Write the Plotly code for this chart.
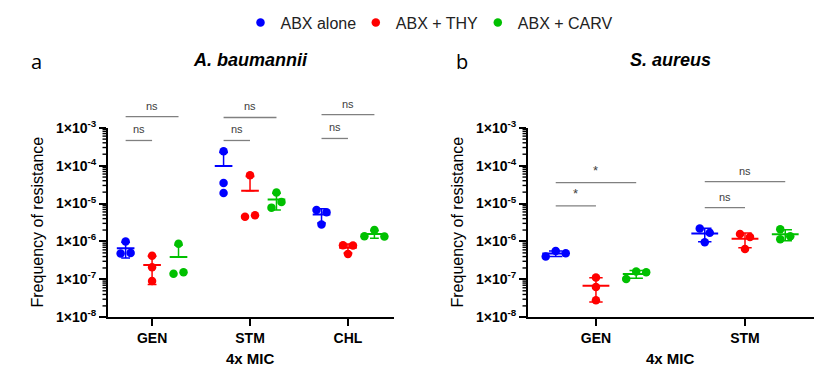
import numpy as np
import plotly.graph_objects as go

# ---------------- data ----------------
groups = ["ABX alone", "ABX + THY", "ABX + CARV"]
colors = ["#0000ff", "#ff0000", "#00c000"]

cats_a = ["GEN", "STM", "CHL"]
abx_alone_a = [[1.0e-6, 4.8e-7, 5.0e-7], [2.4e-4, 3.5e-5, 1.9e-5], [6.8e-6, 5.9e-6, 2.8e-6]]
abx_thy_a = [[4.2e-7, 2.1e-7, 9.1e-8], [5.6e-5, 4.5e-6, 4.9e-6], [7.9e-7, 7.8e-7, 4.7e-7]]
abx_carv_a = [[8.7e-7, 1.4e-7, 1.55e-7], [1.95e-5, 7.8e-6, 1.1e-5], [2.0e-6, 1.35e-6, 1.38e-6]]

cats_b = ["GEN", "STM"]
abx_alone_b = [[5.6e-7, 4.9e-7, 4.0e-7], [2.2e-6, 1.7e-6, 9.5e-7]]
abx_thy_b = [[1.12e-7, 6.3e-8, 2.8e-8], [1.58e-6, 1.32e-6, 6.3e-7]]
abx_carv_b = [[1.62e-7, 1.55e-7, 1.02e-7], [2.1e-6, 1.38e-6, 1.15e-6]]

ytick_vals = [1e-8, 1e-7, 1e-6, 1e-5, 1e-4, 1e-3]
ytick_text = ["1×10<sup>-8</sup>", "1×10<sup>-7</sup>", "1×10<sup>-6</sup>",
              "1×10<sup>-5</sup>", "1×10<sup>-4</sup>", "1×10<sup>-3</sup>"]
minor_vals = [k * d for d in ytick_vals[:-1] for k in range(2, 10)]

# significance brackets: (category index, from group, to group, level, label)
sig_a = [(0, 0, 2, 1.95e-3, "ns"), (0, 0, 1, 4.6e-4, "ns"),
         (1, 0, 2, 1.86e-3, "ns"), (1, 0, 1, 4.6e-4, "ns"),
         (2, 0, 2, 2.2e-3, "ns"), (2, 0, 1, 5.2e-4, "ns")]
sig_b = [(0, 0, 2, 3.55e-5, "*"), (0, 0, 1, 8.7e-6, "*"),
         (1, 0, 2, 3.8e-5, "ns"), (1, 0, 1, 7.8e-6, "ns")]

# ---------------- layout constants ----------------
W, H = 823, 368
FONT = "Arial, Liberation Sans, sans-serif"
dom_a = [108 / W, 394 / W]
dom_b = [528 / W, 814 / W]
dom_y = [1 - 317.3 / H, 1 - 127.7 / H]
rng_a = [-0.45, 2.47]
rng_b = [-0.456, 1.463]
YLOG = [-8, -3]
GROUP_OFF = 0.27
px_per_dec = H * (dom_y[1] - dom_y[0]) / (YLOG[1] - YLOG[0])
legend_dot_x = [260, 375.3, 497.3]


def px_per_cat(dom, rng):
    return W * (dom[1] - dom[0]) / (rng[1] - rng[0])


def place(vals, ppc, step=10.0, diam=8.0):
    """GraphPad-like spreading of overlapping dots (returns category offsets)."""
    ys = np.log10(vals) * px_per_dec
    xs = []
    for i, y in enumerate(ys):
        for c in [0, 1, -1, 2, -2]:
            if all(np.hypot(c * step - xs[j], y - ys[j]) >= diam for j in range(i)):
                xs.append(c * step)
                break
    order = np.argsort(ys)
    clusters = [[order[0]]]
    for a, b in zip(order[:-1], order[1:]):
        if ys[b] - ys[a] < diam:
            clusters[-1].append(b)
        else:
            clusters.append([b])
    for cl in clusters:
        mid = (max(xs[k] for k in cl) + min(xs[k] for k in cl)) / 2
        for k in cl:
            xs[k] -= mid
    return np.array(xs) / ppc


fig = go.Figure()
legend_ids = ["legend", "legend2", "legend3"]


def add_panel(series, xa, ya, dom, rng, showlegend):
    ppc = px_per_cat(dom, rng)
    for g, (name, col, data) in enumerate(zip(groups, colors, series)):
        xs, ys = [], []
        for ci, vals in enumerate(data):
            off = place(vals, ppc)
            xs += list(ci + (g - 1) * GROUP_OFF + off)
            ys += list(vals)
        fig.add_trace(go.Scatter(x=xs, y=ys, mode="markers", name=name,
                                 legendgroup=name, showlegend=showlegend, legend=legend_ids[g],
                                 marker=dict(color=col, size=8.5, line=dict(width=0)),
                                 xaxis=xa, yaxis=ya, hoverinfo="skip"))
    for g, (name, col, data) in enumerate(zip(groups, colors, series)):
        mx, my, up, dn = [], [], [], []
        for ci, vals in enumerate(data):
            v = np.array(vals)
            m, s = v.mean(), v.std(ddof=1)
            mx.append(ci + (g - 1) * GROUP_OFF)
            my.append(m)
            up.append(s)
            dn.append(s if m - s > 0 else 0)
        fig.add_trace(go.Scatter(
            x=mx, y=my, mode="markers", showlegend=False, legendgroup=name,
            marker=dict(symbol="line-ew", size=0.18 * ppc / 1.4, color=col,
                        line=dict(color=col, width=2)),
            error_y=dict(type="data", array=up, arrayminus=dn, symmetric=False,
                         color=col, thickness=1.5, width=0.045 * ppc),
            xaxis=xa, yaxis=ya, hoverinfo="skip"))


add_panel([abx_alone_a, abx_thy_a, abx_carv_a], "x", "y", dom_a, rng_a, True)
add_panel([abx_alone_b, abx_thy_b, abx_carv_b], "x2", "y2", dom_b, rng_b, False)

shapes, annos = [], []


def ydom(v):
    return (np.log10(v) - YLOG[0]) / (YLOG[1] - YLOG[0])


# minor log ticks on both y axes (positions from the log scale of the axis)
for xr, yr, dom in [("x domain", "y domain", dom_a), ("x2 domain", "y2 domain", dom_b)]:
    plot_w = W * (dom[1] - dom[0])
    for v in minor_vals:
        yy = ydom(v)
        shapes.append(dict(type="line", xref=xr, yref=yr, x0=-5.5 / plot_w, x1=0,
                           y0=yy, y1=yy, line=dict(color="black", width=1.4)))

for sigs, xr, yr in [(sig_a, "x", "y domain"), (sig_b, "x2", "y2 domain")]:
    for ci, g0, g1, lvl, lab_ in sigs:
        x0 = ci + (g0 - 1) * GROUP_OFF
        x1 = ci + (g1 - 1) * GROUP_OFF
        yy = ydom(lvl)
        shapes.append(dict(type="line", xref=xr, yref=yr, x0=x0, x1=x1, y0=yy, y1=yy,
                           line=dict(color="#808080", width=1.3)))
        annos.append(dict(xref=xr, yref=yr, x=(x0 + x1) / 2, y=yy, text=lab_,
                          showarrow=False, xanchor="center", yanchor="bottom", yshift=3,
                          font=dict(family=FONT, size=11 if lab_ == "ns" else 13,
                                    color="#404040")))


def lab(x, y, text, size, family=FONT, angle=0):
    return dict(xref="paper", yref="paper", x=x / W, y=1 - y / H, text=text,
                xanchor="center", yanchor="middle", textangle=angle,
                showarrow=False, font=dict(family=family, size=size, color="black"))


annos += [
    lab(250.7, 60, "<i><b>A. baumannii</b></i>", 18),
    lab(670.7, 60, "<i><b>S. aureus</b></i>", 18),
    lab(36.7, 61, "a", 20, "Open Sans, sans-serif"),
    lab(461.7, 62, "b", 20, "Open Sans, sans-serif"),
    lab(37, 222.5, "Frequency of resistance", 16, angle=-90),
    lab(457, 222.5, "Frequency of resistance", 16, angle=-90),
    lab(250.7, 358, "<b>4x MIC</b>", 15),
    lab(670.7, 358, "<b>4x MIC</b>", 15),
]

xcommon = dict(showgrid=False, zeroline=False, showline=True, linecolor="black", linewidth=2,
               ticks="outside", ticklen=7, tickwidth=2, tickcolor="black",
               tickfont=dict(family=FONT, size=14, color="black", weight="bold"))
ycommon = dict(type="log", range=YLOG, domain=dom_y, showgrid=False, zeroline=False,
               showline=True, linecolor="black", linewidth=2,
               ticks="outside", ticklen=7, tickwidth=2, tickcolor="black",
               tickmode="array", tickvals=ytick_vals, ticktext=ytick_text,
               tickfont=dict(family=FONT, size=14, color="black", weight="bold"))


def legend_box(xdot):
    return dict(orientation="h", x=(xdot - 19.5) / W, xanchor="left", y=1 - 22.7 / H,
                yanchor="middle", font=dict(family=FONT, size=16, color="#222222"),
                bgcolor="rgba(0,0,0,0)")


fig.update_layout(
    width=W, height=H, margin=dict(l=0, r=0, t=0, b=0, autoexpand=False),
    paper_bgcolor="white", plot_bgcolor="white",
    xaxis=dict(domain=dom_a, range=rng_a, tickvals=list(range(len(cats_a))), ticktext=cats_a,
               anchor="y", **xcommon),
    yaxis=dict(anchor="x", **ycommon),
    xaxis2=dict(domain=dom_b, range=rng_b, tickvals=list(range(len(cats_b))), ticktext=cats_b,
                anchor="y2", **xcommon),
    yaxis2=dict(anchor="x2", **ycommon),
    shapes=shapes, annotations=annos,
    legend=legend_box(legend_dot_x[0]),
    legend2=legend_box(legend_dot_x[1]),
    legend3=legend_box(legend_dot_x[2]),
    showlegend=True,
)

fig.write_html("out.html", config={"displayModeBar": False},
               post_script="document.body.style.margin='0px';")
